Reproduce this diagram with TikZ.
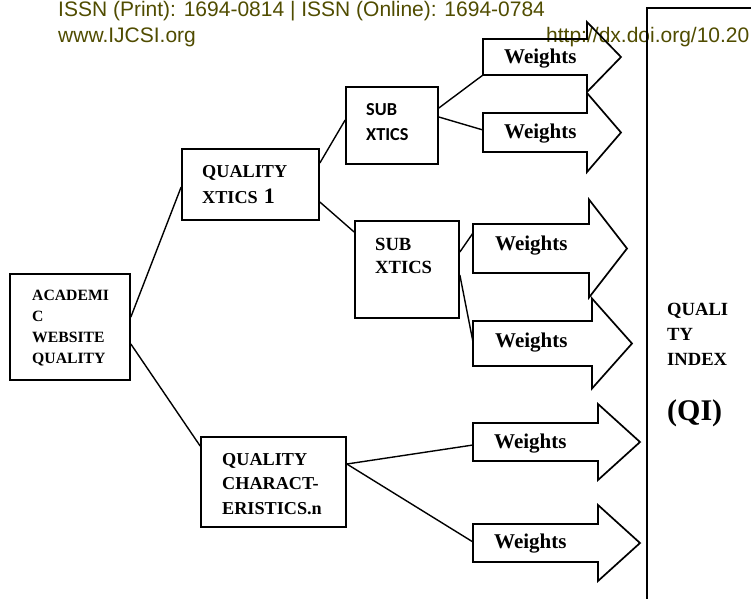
\documentclass[tikz,border=0pt]{standalone}
\usepackage{fontspec}
\setmainfont{Liberation Serif}
\newfontfamily\hdrfont{Liberation Sans}
\newfontfamily\calfont{Carlito}
\definecolor{hdrcol}{RGB}{80,76,0}
% #1 name, #2 left x, #3 centre y, #4 shaft half height, #5 head base x,
% #6 head half height, #7 tip x, #8 text x, #9 text baseline
\newcommand\warrow[9]{%
  \draw[arrowbox] (#2,#3-#4) -- (#5,#3-#4) -- (#5,#3-#6) -- (#7,#3)
     -- (#5,#3+#6) -- (#5,#3+#4) -- (#2,#3+#4) -- cycle;
  \coordinate (#1w) at (#2,#3);
  \node[wtxt] (#1t) at (#8,#9) {Weights};
}
\begin{document}
\begin{tikzpicture}[x=1pt,y=-1pt,
  box/.style={draw,line width=1.7pt,rectangle,inner sep=0pt},
  arrowbox/.style={draw,line width=1.7pt,line join=miter},
  conn/.style={draw,line width=1.4pt},
  wtxt/.style={anchor=base west,inner sep=0pt,font=\bfseries\fontsize{21}{25}\selectfont},
  lbl/.style={anchor=base west,inner sep=0pt,align=left,text width=140pt},
  hdr/.style={anchor=base west,inner sep=0pt,text=hdrcol,font=\hdrfont\fontsize{21}{25}\selectfont}]
\useasboundingbox (0,0) rectangle (751,598);

% header
\node[hdr] (issn) at (58,16.5) {ISSN (Print): 1694-0814 | ISSN (Online): 1694-0784};
\node[hdr] (www) at (58,42) {www.IJCSI.org};
\node[hdr] (doi) at (546,42) {http://dx.doi.org/10.20};

% boxes
\node[box,minimum width=120pt,minimum height=106pt] (acad) at (70,327) {};
\node[box,minimum width=137pt,minimum height=71pt] (qx1) at (250.5,184.5) {};
\node[box,minimum width=92pt,minimum height=77pt] (sub1) at (392,125.5) {};
\node[box,minimum width=104pt,minimum height=97pt] (sub2) at (407,269.5) {};
\node[box,minimum width=145pt,minimum height=90pt] (qcn) at (273.5,482) {};

% box texts
\node[lbl,font=\bfseries\fontsize{15.7}{21}\selectfont] (acadt) at (32,300)
  {ACADEMI\\C\\WEBSITE\\QUALITY};
\node[lbl,font=\bfseries\fontsize{18.2}{26}\selectfont] (qx1t) at (202,177)
  {QUALITY\\XTICS {\fontsize{22}{26}\selectfont 1}};
\node[lbl,font=\calfont\bfseries\fontsize{18.3}{25}\selectfont] (sub1t) at (366,115)
  {SUB\\XTICS};
\node[lbl,font=\bfseries\fontsize{18.6}{23}\selectfont] (sub2t) at (375,250)
  {SUB\\XTICS};
\node[lbl,font=\bfseries\fontsize{18.2}{24.5}\selectfont] (qcnt) at (222,465)
  {QUALITY\\CHARACT-\\ERISTICS.n};

% quality index box (runs off the page)
\draw[line width=1.7pt] (647,600) -- (647,8) -- (753,8);
\node[lbl,font=\bfseries\fontsize{18.6}{25}\selectfont] (qit) at (667,315)
  {QUALI\\TY\\INDEX};
\node[lbl,font=\bfseries\fontsize{30}{34}\selectfont] (qiabbr) at (667,420) {(QI)};

% weight arrows
\warrow{wa}{483}{57}{18}{587}{35}{621}{504}{63}
\warrow{wb}{483}{132.5}{19.5}{587}{39.5}{621}{504}{138}
\warrow{wc}{473}{248.5}{24.5}{589}{49}{627}{495}{250}
\warrow{wd}{473}{343.5}{22.5}{592}{45}{632}{495}{347}
\warrow{we}{473}{442}{19}{598}{38}{640}{494}{448}
\warrow{wf}{473}{543}{19}{598}{38}{640}{494}{548}

% connectors
\draw[conn] (acad.east |- 0,317) -- (qx1.west |- 0,187);
\draw[conn] (acad.east |- 0,344) -- (qcn.west |- 0,446);
\draw[conn] (qx1.east |- 0,163) -- (sub1.west |- 0,120);
\draw[conn] (qx1.east |- 0,202) -- (sub2.west |- 0,232);
\draw[conn] (sub1.east |- 0,108) -- (waw |- 0,75);
\draw[conn] (sub1.east |- 0,117) -- (wbw |- 0,130);
\draw[conn] (sub2.east |- 0,252) -- (wcw |- 0,233);
\draw[conn] (sub2.east |- 0,275) -- (wdw |- 0,342);
\draw[conn] (qcn.east |- 0,464) -- (wew |- 0,445);
\draw[conn] (qcn.east |- 0,464) -- (wfw |- 0,542);
\end{tikzpicture}
\end{document}
